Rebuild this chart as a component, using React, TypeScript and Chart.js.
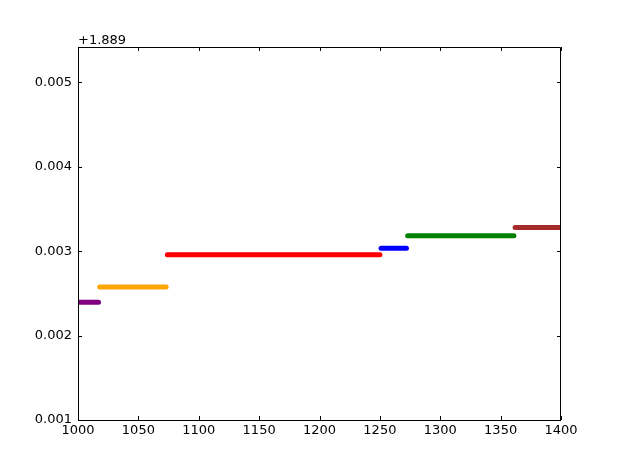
import React, { useEffect, useRef } from "react";
import { Chart, registerables } from "chart.js";

Chart.register(...registerables);

const OFFSET = 1.889;
const segStarts = [1000, 1018, 1074, 1251, 1273, 1362];
const segEnds = [1017, 1073, 1250, 1272, 1361, 1400];
const segValues = [1.891396, 1.891574, 1.891956, 1.892035, 1.892181, 1.892279];
const segColors = ["#800080", "#ffa500", "#ff0000", "#0000ff", "#008000", "#a52a2a"];
const xTicks = [1000, 1050, 1100, 1150, 1200, 1250, 1300, 1350, 1400];
const yTicks = [1.89, 1.891, 1.892, 1.893, 1.894];
const xMin = 1000;
const xMax = 1400;
const yMin = 1.89;
const yMax = 1.894418;

const FONT = "DejaVu Sans";

const framePlugin = {
  id: "frame",
  afterDraw(chart: any) {
    const { ctx, chartArea } = chart;
    const { left, right, top, bottom } = chartArea;
    const xs = chart.scales.x;
    const ys = chart.scales.y;
    ctx.save();
    ctx.strokeStyle = "#000";
    ctx.lineWidth = 1;
    ctx.beginPath();
    ctx.rect(Math.round(left) + 0.5, Math.round(top) + 0.5, Math.round(right - left) - 1, Math.round(bottom - top));
    ctx.stroke();
    const tl = 4;
    ctx.beginPath();
    xTicks.forEach((t) => {
      const px = Math.round(xs.getPixelForValue(t)) + 0.5;
      ctx.moveTo(px, bottom);
      ctx.lineTo(px, bottom - tl);
      ctx.moveTo(px, top);
      ctx.lineTo(px, top + tl);
    });
    yTicks.forEach((t) => {
      const py = Math.round(ys.getPixelForValue(t)) + 0.5;
      ctx.moveTo(left, py);
      ctx.lineTo(left + tl, py);
      ctx.moveTo(right, py);
      ctx.lineTo(right - tl, py);
    });
    ctx.stroke();
    ctx.fillStyle = "#000";
    ctx.font = `13px "${FONT}"`;
    ctx.textAlign = "left";
    ctx.textBaseline = "alphabetic";
    ctx.fillText("+" + OFFSET.toFixed(3), left, top - 3.5);
    ctx.restore();
  },
};

export default function App() {
  const ref = useRef<HTMLCanvasElement>(null);
  useEffect(() => {
    document.body.style.margin = "0";
    const datasets = segStarts.map((s, i) => ({
      label: "seg" + i,
      data: [
        { x: s, y: segValues[i] },
        { x: segEnds[i], y: segValues[i] },
      ],
      borderColor: segColors[i],
      backgroundColor: segColors[i],
      borderWidth: 5,
      borderCapStyle: "round" as const,
      pointRadius: 0,
      tension: 0,
      fill: false,
    }));
    const chart = new Chart(ref.current!, {
      type: "line",
      data: { datasets },
      options: {
        responsive: false,
        animation: false,
        devicePixelRatio: 1,
        layout: { padding: { left: 0, right: 62, top: 47, bottom: 0 } },
        plugins: { legend: { display: false }, tooltip: { enabled: false } },
        scales: {
          x: {
            type: "linear",
            min: xMin,
            max: xMax,
            afterBuildTicks: (sc: any) => {
              sc.ticks = xTicks.map((v) => ({ value: v }));
            },
            afterFit: (sc: any) => {
              sc.height = 47;
            },
            grid: { display: false, drawTicks: false },
            border: { display: false },
            ticks: {
              color: "#000",
              font: { family: FONT, size: 13 },
              padding: 3,
              maxRotation: 0,
              callback: (v: any) => String(v),
            },
          },
          y: {
            type: "linear",
            min: yMin,
            max: yMax,
            afterBuildTicks: (sc: any) => {
              sc.ticks = yTicks.map((v) => ({ value: v }));
            },
            afterFit: (sc: any) => {
              sc.width = 78;
            },
            grid: { display: false, drawTicks: false },
            border: { display: false },
            ticks: {
              color: "#000",
              font: { family: FONT, size: 13 },
              padding: 6,
              callback: (v: any) => (Number(v) - OFFSET).toFixed(3),
            },
          },
        },
      },
      plugins: [framePlugin],
    });
    return () => chart.destroy();
  }, []);
  return (
    <div style={{ width: 623, height: 467, background: "#fff" }}>
      <canvas ref={ref} width={623} height={467} style={{ display: "block" }} />
    </div>
  );
}
